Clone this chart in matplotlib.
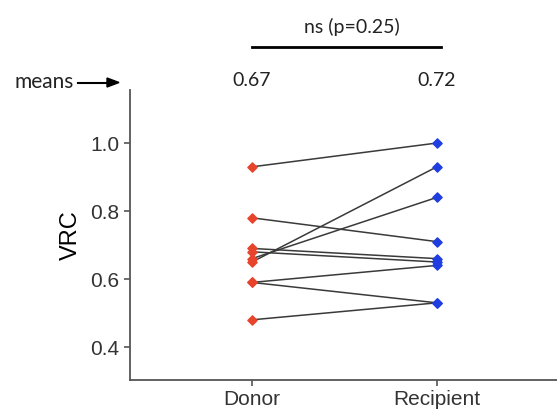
import matplotlib.pyplot as plt

groups = ['Donor', 'Recipient']
donor = [0.93, 0.78, 0.69, 0.68, 0.66, 0.65, 0.59, 0.59, 0.48]
recipient = [1.00, 0.71, 0.66, 0.65, 0.84, 0.93, 0.64, 0.53, 0.53]
means = ['0.67', '0.72']
yticks = [0.4, 0.6, 0.8, 1.0]
stat_label = 'ns (p=0.25)'

W, H = 557, 416
fig = plt.figure(figsize=(W / 100, H / 100), dpi=100)
ax = fig.add_axes([130 / W, 36 / H, 1 - 130 / W, 290 / H])

for d, r in zip(donor, recipient):
    ax.plot([0, 1], [d, r], color='#3a3a3a', lw=1.1, zorder=1)
ax.scatter([0] * len(donor), donor, marker='D', s=22, color='#e8432b', zorder=2)
ax.scatter([1] * len(recipient), recipient, marker='D', s=22, color='#1f3de0', zorder=2)

ax.set_xlim(-0.66, 1.65)
ax.set_ylim(0.303, 1.156)
ax.set_xticks([0, 1])
ax.set_xticklabels(groups, fontsize=15, family='Liberation Sans')
ax.set_yticks(yticks)
ax.set_yticklabels(['%.1f' % v for v in yticks], fontsize=15, family='Liberation Sans')
ax.set_ylabel('VRC', fontsize=17, family='Liberation Sans', labelpad=6)

for s in ['top', 'right']:
    ax.spines[s].set_visible(False)
for s in ['left', 'bottom']:
    ax.spines[s].set_color('#555555')
    ax.spines[s].set_linewidth(1.3)
ax.tick_params(color='#555555', length=4, width=1.2, colors='#333333')

# means row above the axes
trans = ax.get_xaxis_transform()
for i, m in enumerate(means):
    ax.text(i, (H - 80 - 36) / 290, m, transform=trans, ha='center', va='center',
            fontsize=14, family='Lato', color='#222222')
fig.text(14 / W, 1 - 82 / H, 'means', fontsize=15, family='Lato', va='center', ha='left', color='#222222')
fig.add_artist(plt.Line2D([78 / W, 110 / W], [1 - 82.5 / H] * 2, color='black', lw=1.5))
fig.add_artist(plt.Polygon([[107 / W, 1 - 78 / H], [119 / W, 1 - 82.5 / H], [107 / W, 1 - 87 / H]],
                           closed=True, color='black'))

# significance bar
ax.plot([0, 1.02], [1.282, 1.282], color='black', lw=2, clip_on=False)
ax.text(0.54, 1.342, stat_label, ha='center', va='center', fontsize=14, family='Lato', color='#222222')

fig.savefig('out.png', dpi=100)
